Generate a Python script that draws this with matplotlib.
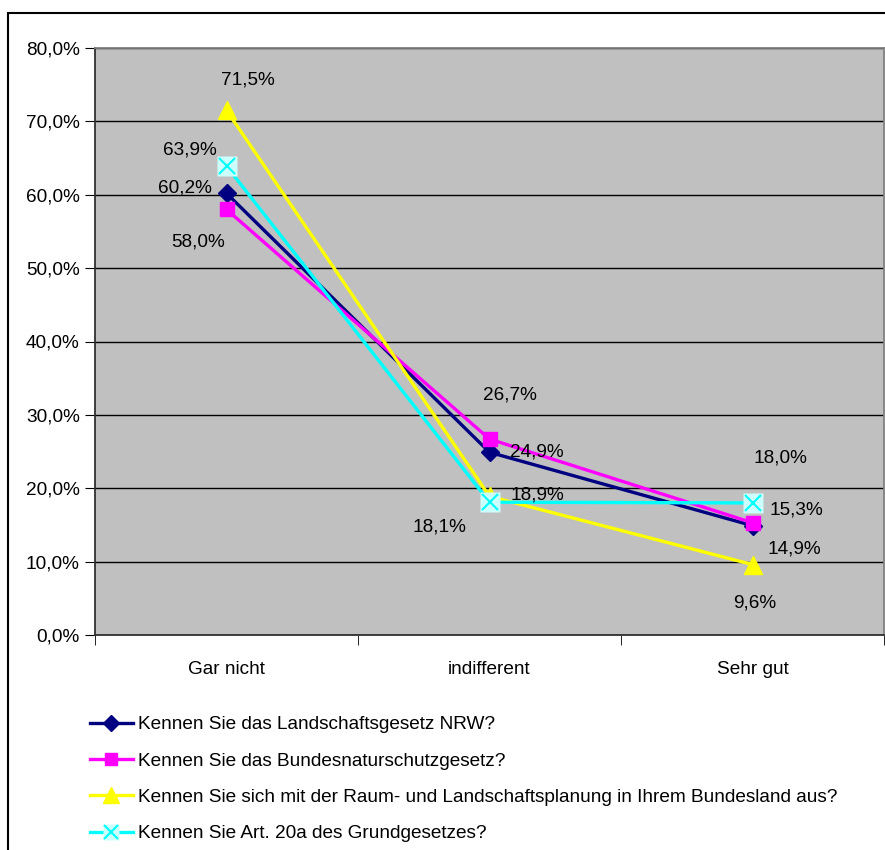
import matplotlib
matplotlib.use("Agg")
import matplotlib.pyplot as plt
from matplotlib.lines import Line2D
from matplotlib.patches import Rectangle

plt.rcParams['font.family'] = ['Liberation Sans', 'DejaVu Sans']

categories = ["Gar nicht", "indifferent", "Sehr gut"]
series_names = [
    "Kennen Sie das Landschaftsgesetz NRW?",
    "Kennen Sie das Bundesnaturschutzgesetz?",
    "Kennen Sie sich mit der Raum- und Landschaftsplanung in Ihrem Bundesland aus?",
    "Kennen Sie Art. 20a des Grundgesetzes?",
]
landschaftsgesetz = [60.2, 24.9, 14.9]
bundesnaturschutz = [58.0, 26.7, 15.3]
raumplanung = [71.5, 18.9, 9.6]
grundgesetz = [63.9, 18.1, 18.0]
y_ticks = [0, 10, 20, 30, 40, 50, 60, 70, 80]

# label offsets in pixels (dx, dy) for each series / point
offsets = {
    0: [(-42, 5), (47, 0), (42, -23)],
    1: [(-28, -33), (20, 44), (44, 13)],
    2: [(21, 30), (48, 1), (2, -38)],
    3: [(-37, 16), (-50, -25), (28, 45)],
}

FS = 13.7
W, H = 885, 850
fig = plt.figure(figsize=(W / 100, H / 100), dpi=100)
fig.patches.append(Rectangle((8 / W, -0.5), 1.5, 1.5 - 13 / H, transform=fig.transFigure,
                             fill=False, edgecolor='black', linewidth=1.5, zorder=0))

ax = fig.add_axes([95 / W, 1 - 635 / H, 789 / W, 587 / H])
ax.set_facecolor('#C0C0C0')
for name, s in ax.spines.items():
    s.set_color('#808080' if name in ('top', 'right') else '#303030')
    s.set_linewidth(1.3)

x = list(range(len(categories)))
ax.set_xlim(-0.5, 2.5)
ax.set_ylim(0, 80)
ax.set_yticks(y_ticks)
ax.set_yticklabels([f"{v:.1f}%".replace('.', ',') for v in y_ticks], fontsize=FS)
ax.set_xticks(x)
ax.set_xticklabels(categories, fontsize=FS)
ax.tick_params(axis='x', which='major', length=0, pad=19)
ax.set_xticks([-0.5, 0.5, 1.5, 2.5], minor=True)
ax.tick_params(axis='x', which='minor', length=7, color='black', direction='out')
ax.tick_params(axis='y', length=7, color='black', direction='out', pad=4)
ax.yaxis.grid(True, color='black', linewidth=1)
ax.set_axisbelow(True)

lw = 2.4
ax.plot(x, landschaftsgesetz, color='#000080', linewidth=lw, marker='D',
        markersize=9, zorder=3)
ax.plot(x, bundesnaturschutz, color='#FF00FF', linewidth=lw, marker='s',
        markersize=9.5, zorder=3)
ax.plot(x, raumplanung, color='#FFFF00', linewidth=lw, marker='^',
        markersize=13, zorder=3)
ax.plot(x, grundgesetz, color='#00FFFF', linewidth=lw, zorder=3)
ax.plot(x, grundgesetz, linestyle='none', marker='s', markersize=14,
        markerfacecolor='#CCFFFF', markeredgecolor='none', zorder=4)
ax.plot(x, grundgesetz, linestyle='none', marker='x', markersize=11,
        markeredgecolor='#00FFFF', markeredgewidth=1.5, zorder=5)

all_series = [landschaftsgesetz, bundesnaturschutz, raumplanung, grundgesetz]
for si, vals in enumerate(all_series):
    for i, v in enumerate(vals):
        dx, dy = offsets[si][i]
        ax.annotate(f"{v:.1f}%".replace('.', ','), (x[i], v), xytext=(dx, dy),
                    textcoords='offset pixels', ha='center', va='center',
                    fontsize=FS, zorder=6)

leg_handles = [
    Line2D([], [], color='#000080', linewidth=lw, marker='D', markersize=8),
    Line2D([], [], color='#FF00FF', linewidth=lw, marker='s', markersize=8.5),
    Line2D([], [], color='#FFFF00', linewidth=lw, marker='^', markersize=11),
    (Line2D([], [], color='#00FFFF', linewidth=lw),
     Line2D([], [], linestyle='none', marker='s', markersize=12,
            markerfacecolor='#CCFFFF', markeredgecolor='none'),
     Line2D([], [], linestyle='none', marker='x', markersize=10,
            markeredgecolor='#00FFFF', markeredgewidth=1.5)),
]
fig.legend(leg_handles, series_names, loc='upper left',
           bbox_to_anchor=(90 / W, 1 - 716 / H), frameon=False, fontsize=FS,
           handlelength=2.25, handletextpad=0.25, labelspacing=1.0,
           borderpad=0, borderaxespad=0)

fig.savefig("out.png", dpi=100)
